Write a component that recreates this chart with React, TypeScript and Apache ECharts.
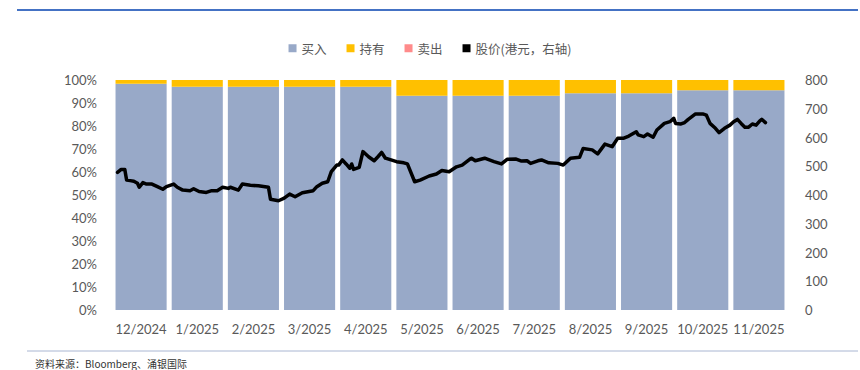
import React, { useEffect, useRef } from "react";
import * as echarts from "echarts";

const categories = ["12/2024", "1/2025", "2/2025", "3/2025", "4/2025", "5/2025", "6/2025", "7/2025", "8/2025", "9/2025", "10/2025", "11/2025"];
const buyPct = [98.4, 97.1, 97.1, 97.1, 97.1, 93.2, 93.2, 93.2, 94.2, 94.2, 95.5, 95.5];
const holdPct = [1.6, 2.9, 2.9, 2.9, 2.9, 6.8, 6.8, 6.8, 5.8, 5.8, 4.5, 4.5];
const sellPct = [0, 0, 0, 0, 0, 0, 0, 0, 0, 0, 0, 0];

const priceDates = [
  "2024-12-03", "2024-12-05", "2024-12-07", "2024-12-08", "2024-12-10", "2024-12-12", "2024-12-14", "2024-12-15",
  "2024-12-17", "2024-12-19", "2024-12-22", "2024-12-25", "2024-12-28", "2024-12-30",
  "2025-01-03", "2025-01-05", "2025-01-08", "2025-01-12", "2025-01-14", "2025-01-17", "2025-01-21", "2025-01-24",
  "2025-01-27", "2025-01-30",
  "2025-02-02", "2025-02-03", "2025-02-07", "2025-02-09", "2025-02-13", "2025-02-17", "2025-02-22", "2025-02-23",
  "2025-02-27",
  "2025-03-02", "2025-03-05", "2025-03-08", "2025-03-12", "2025-03-18", "2025-03-20", "2025-03-23", "2025-03-26",
  "2025-03-28", "2025-03-31",
  "2025-04-01", "2025-04-03", "2025-04-05", "2025-04-07", "2025-04-08", "2025-04-09", "2025-04-12", "2025-04-14",
  "2025-04-17", "2025-04-20", "2025-04-22", "2025-04-24", "2025-04-26", "2025-04-29",
  "2025-05-02", "2025-05-06", "2025-05-08", "2025-05-12", "2025-05-15", "2025-05-20", "2025-05-24", "2025-05-27",
  "2025-05-31",
  "2025-06-04", "2025-06-07", "2025-06-11", "2025-06-12", "2025-06-14", "2025-06-19", "2025-06-24", "2025-06-28",
  "2025-07-01", "2025-07-06", "2025-07-09", "2025-07-12", "2025-07-14", "2025-07-18", "2025-07-20", "2025-07-24",
  "2025-07-29",
  "2025-08-01", "2025-08-05", "2025-08-10", "2025-08-12", "2025-08-17", "2025-08-20", "2025-08-24", "2025-08-28",
  "2025-08-31",
  "2025-09-03", "2025-09-06", "2025-09-10", "2025-09-11", "2025-09-14", "2025-09-16", "2025-09-19", "2025-09-21",
  "2025-09-25", "2025-09-28", "2025-09-30",
  "2025-10-01", "2025-10-04", "2025-10-06", "2025-10-08", "2025-10-12", "2025-10-16", "2025-10-18", "2025-10-20",
  "2025-10-23", "2025-10-25", "2025-10-28", "2025-10-31",
  "2025-11-02", "2025-11-04", "2025-11-06", "2025-11-08", "2025-11-10", "2025-11-12", "2025-11-14", "2025-11-16",
  "2025-11-17", "2025-11-19",
];
const priceValues = [
  479, 489, 489, 452, 450, 448, 441, 427,
  443, 438, 438, 429, 420, 429,
  438, 427, 417, 415, 422, 412, 409, 415,
  415, 427,
  423, 427, 417, 438, 434, 432, 427, 385,
  380,
  389, 403, 394, 408, 415, 429, 441, 446,
  481, 504,
  504, 522, 508, 493, 508, 489, 496, 551,
  533, 519, 533, 548, 528, 522,
  516, 512, 508, 446, 452, 466, 473, 485,
  481,
  498, 504, 524, 528, 519, 528, 516, 508,
  524, 525, 518, 519, 510, 519, 522, 512,
  510,
  504, 528, 531, 562, 557, 543, 577, 568,
  597,
  597, 605, 620, 609, 603, 612, 601, 626,
  649, 655, 667,
  649, 647, 652, 663, 682, 682, 678, 649,
  632, 617, 632, 643,
  655, 663, 649, 636, 636, 647, 643, 658,
  663, 652,
];

const yLeftTicks = { min: 0, max: 100, interval: 10 };
const yRightTicks = { min: 0, max: 800, interval: 100 };

function dateToPos(s: string): number {
  const [y, m, d] = s.split("-").map(Number);
  const monthIdx = (y - 2024) * 12 + (m - 1) - 11;
  const days = new Date(y, m, 0).getDate();
  return monthIdx + (d - 0.5) / days;
}

export default function App() {
  const ref = useRef<HTMLDivElement>(null);
  useEffect(() => {
    if (!ref.current) return;
    const chart = echarts.init(ref.current, undefined, { renderer: "svg" });
    const font = "Lato, 'Noto Sans', sans-serif";
    const labelColor = "#595959";
    const lineData = priceDates.map((d, i) => [dateToPos(d), priceValues[i]]);
    chart.setOption({
      animation: false,
      backgroundColor: "#ffffff",
      legend: {
        top: 37,
        left: "center",
        itemWidth: 8,
        itemHeight: 8,
        itemGap: 20,
        icon: "rect",
        textStyle: { color: labelColor, fontSize: 12.5, fontFamily: "'Noto Sans CJK SC', sans-serif" },
        data: ["买入", "持有", "卖出", "股价(港元，右轴)"],
      },
      grid: { left: 113, right: 73, top: 80, bottom: 60 },
      xAxis: [
        {
          type: "category",
          data: categories,
          axisLine: { show: false },
          axisTick: { show: false },
          axisLabel: { color: labelColor, fontSize: 13, fontFamily: font, margin: 12, interval: 0 },
        },
        {
          type: "value",
          min: 0,
          max: 12,
          show: false,
        },
      ],
      yAxis: [
        {
          type: "value",
          ...yLeftTicks,
          axisLabel: { formatter: "{value}%", color: labelColor, fontSize: 13, fontFamily: font, margin: 16 },
          splitLine: { show: false },
          axisLine: { show: false },
          axisTick: { show: false },
        },
        {
          type: "value",
          ...yRightTicks,
          position: "right",
          axisLabel: { color: labelColor, fontSize: 13, fontFamily: font, margin: 18 },
          splitLine: { show: false },
          axisLine: { show: false },
          axisTick: { show: false },
        },
      ],
      series: [
        {
          name: "买入",
          type: "bar",
          stack: "s",
          data: buyPct,
          barCategoryGap: "9%",
          itemStyle: { color: "#98A9C8" },
        },
        {
          name: "持有",
          type: "bar",
          stack: "s",
          data: holdPct,
          itemStyle: { color: "#FFC000" },
        },
        {
          name: "卖出",
          type: "bar",
          stack: "s",
          data: sellPct,
          itemStyle: { color: "#FF8B8B" },
        },
        {
          name: "股价(港元，右轴)",
          type: "line",
          xAxisIndex: 1,
          yAxisIndex: 1,
          data: lineData,
          showSymbol: false,
          symbol: "none",
          itemStyle: { color: "#000000" },
          lineStyle: { color: "#000000", width: 3.5, join: "round", cap: "round" },
        },
      ],
      graphic: [
        { type: "line", shape: { x1: 17, y1: 10, x2: 858, y2: 10 }, style: { stroke: "#4472C4", lineWidth: 2 } },
        { type: "line", shape: { x1: 27, y1: 351, x2: 858, y2: 351 }, style: { stroke: "#A9B6D2", lineWidth: 1 } },
        {
          type: "text",
          x: 35,
          y: 358,
          style: { text: "资料来源：Bloomberg、涌银国际", fill: "#333333", fontSize: 10, fontFamily: "'Noto Sans CJK SC', sans-serif" },
        },
      ],
    });
    return () => chart.dispose();
  }, []);
  return <div ref={ref} style={{ width: 860, height: 370, position: "absolute", left: 0, top: 0 }} />;
}
